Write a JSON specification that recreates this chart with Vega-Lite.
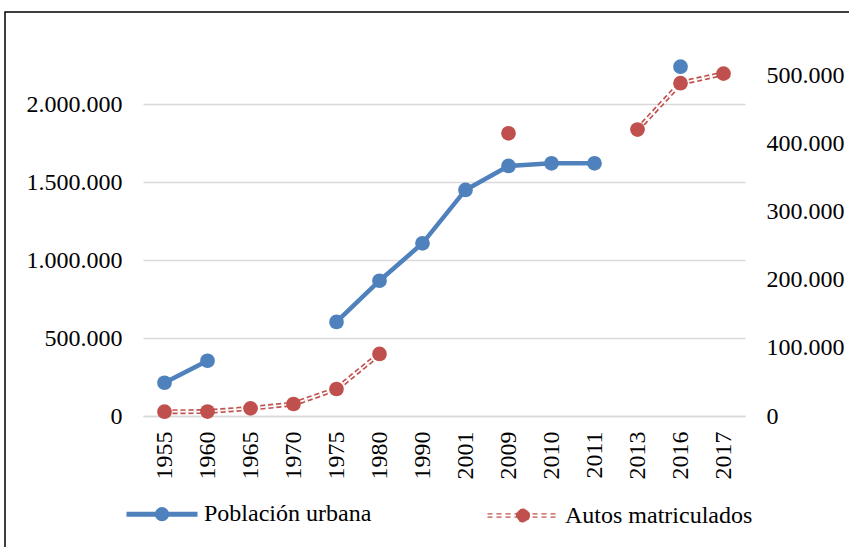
{
  "$schema": "https://vega.github.io/schema/vega-lite/v6.json",
  "width": 844,
  "height": 535,
  "autosize": {"type": "none"},
  "padding": {"left": 5, "top": 12, "right": 0, "bottom": 0},
  "background": "white",
  "datasets": {
    "pob": [
      {"anio": "1955", "valor": 213000, "tramo": "a", "serie": "Población urbana"},
      {"anio": "1960", "valor": 354000, "tramo": "a", "serie": "Población urbana"},
      {"anio": "1975", "valor": 603000, "tramo": "b", "serie": "Población urbana"},
      {"anio": "1980", "valor": 867000, "tramo": "b", "serie": "Población urbana"},
      {"anio": "1990", "valor": 1107000, "tramo": "b", "serie": "Población urbana"},
      {"anio": "2001", "valor": 1449000, "tramo": "b", "serie": "Población urbana"},
      {"anio": "2009", "valor": 1603000, "tramo": "b", "serie": "Población urbana"},
      {"anio": "2010", "valor": 1620000, "tramo": "b", "serie": "Población urbana"},
      {"anio": "2011", "valor": 1620000, "tramo": "b", "serie": "Población urbana"},
      {"anio": "2016", "valor": 2239000, "tramo": "c", "serie": "Población urbana"}
    ],
    "autos": [
      {"anio": "1955", "valor": 6300, "tramo": "a", "serie": "Autos matriculados"},
      {"anio": "1960", "valor": 6500, "tramo": "a", "serie": "Autos matriculados"},
      {"anio": "1965", "valor": 11200, "tramo": "a", "serie": "Autos matriculados"},
      {"anio": "1970", "valor": 17600, "tramo": "a", "serie": "Autos matriculados"},
      {"anio": "1975", "valor": 39600, "tramo": "a", "serie": "Autos matriculados"},
      {"anio": "1980", "valor": 91000, "tramo": "a", "serie": "Autos matriculados"},
      {"anio": "2009", "valor": 414500, "tramo": "b", "serie": "Autos matriculados"},
      {"anio": "2013", "valor": 420000, "tramo": "c", "serie": "Autos matriculados"},
      {"anio": "2016", "valor": 488000, "tramo": "c", "serie": "Autos matriculados"},
      {"anio": "2017", "valor": 502000, "tramo": "c", "serie": "Autos matriculados"}
    ]
  },
  "encoding": {
    "x": {
      "field": "anio",
      "type": "ordinal",
      "scale": {
        "type": "point",
        "domain": ["1955", "1960", "1965", "1970", "1975", "1980", "1990", "2001", "2009", "2010", "2011", "2013", "2016", "2017"],
        "range": [138, 740],
        "padding": 0.5
      },
      "axis": {
        "title": null,
        "labelAngle": 270,
        "labelPadding": 15,
        "offset": -131,
        "domain": true,
        "domainColor": "#d9d9d9",
        "domainWidth": 1.5,
        "ticks": false,
        "grid": false
      }
    }
  },
  "layer": [
    {
      "data": {"name": "pob"},
      "encoding": {
        "y": {
          "field": "valor",
          "type": "quantitative",
          "scale": {"domain": [0, 2500000], "range": [404, 14], "nice": false, "zero": true},
          "axis": {
            "title": null,
            "orient": "left",
            "values": [0, 500000, 1000000, 1500000, 2000000],
            "format": ",d",
            "offset": -138,
            "labelPadding": 21,
            "grid": true,
            "ticks": false,
            "domain": false
          }
        },
        "color": {
          "field": "serie",
          "type": "nominal",
          "scale": {"domain": ["Población urbana", "Autos matriculados"], "range": ["#4F81BD", "#C0504D"]},
          "legend": {
            "orient": "none",
            "legendX": 145,
            "legendY": 490,
            "direction": "horizontal",
            "title": null,
            "labelFont": "Liberation Serif",
            "labelFontSize": 24,
            "labelColor": "#000",
            "labelLimit": 0,
            "symbolSize": 5041,
            "labelOffset": 30,
            "columnPadding": 112,
            "padding": 0,
            "symbolStrokeWidth": 5,
            "encode": {
              "symbols": {
                "update": {
                  "shape": {"signal": "datum.value === 'Población urbana' ? 'M-1,0H1M0.13,0A0.13,0.13,0,1,1,-0.13,0A0.13,0.13,0,1,1,0.13,0Z' : 'M-1,-0.045H1M-1,0.045H1M0.18,0A0.18,0.18,0,1,1,-0.18,0A0.18,0.18,0,1,1,0.18,0Z'"},
                  "fill": {"scale": "color", "field": "value"},
                  "stroke": {"scale": "color", "field": "value"},
                  "strokeWidth": {"signal": "datum.value === 'Población urbana' ? 5 : 1.4"},
                  "strokeDash": {"signal": "datum.value === 'Población urbana' ? [] : [5, 4]"},
                  "opacity": {"value": 1}
                }
              }
            }
          }
        }
      },
      "layer": [
        {
          "mark": {"type": "line", "strokeWidth": 4.5},
          "encoding": {"detail": {"field": "tramo"}}
        },
        {
          "mark": {"type": "point", "filled": true, "size": 216, "opacity": 1, "strokeWidth": 0}
        }
      ]
    },
    {
      "data": {"name": "autos"},
      "encoding": {
        "y": {
          "field": "valor",
          "type": "quantitative",
          "scale": {"domain": [0, 500000], "range": [404, 63], "nice": false, "zero": true},
          "axis": {
            "title": null,
            "orient": "right",
            "values": [0, 100000, 200000, 300000, 400000, 500000],
            "format": ",d",
            "offset": -104,
            "labelPadding": 21,
            "grid": false,
            "ticks": false,
            "domain": false
          }
        }
      },
      "layer": [
        {
          "mark": {"type": "line", "strokeWidth": 5, "strokeDash": [5, 3]},
          "encoding": {
            "detail": {"field": "tramo"},
            "color": {"field": "serie", "type": "nominal"}
          }
        },
        {
          "mark": {"type": "line", "strokeWidth": 1.7, "strokeDash": [5, 3], "color": "white"},
          "encoding": {"detail": {"field": "tramo"}}
        },
        {
          "mark": {"type": "point", "filled": true, "size": 216, "opacity": 1, "strokeWidth": 0},
          "encoding": {"color": {"field": "serie", "type": "nominal"}}
        }
      ]
    }
  ],
  "resolve": {"scale": {"y": "independent"}},
  "config": {
    "font": "Liberation Serif",
    "locale": {"number": {"decimal": ",", "thousands": ".", "grouping": [3], "currency": ["", " €"]}},
    "view": {"stroke": "#000", "strokeWidth": 1.5, "strokeDash": [844, 1379, 535]},
    "axis": {
      "labelFont": "Liberation Serif",
      "labelFontSize": 24,
      "labelColor": "#000",
      "gridColor": "#d9d9d9",
      "gridWidth": 1.5
    }
  }
}
